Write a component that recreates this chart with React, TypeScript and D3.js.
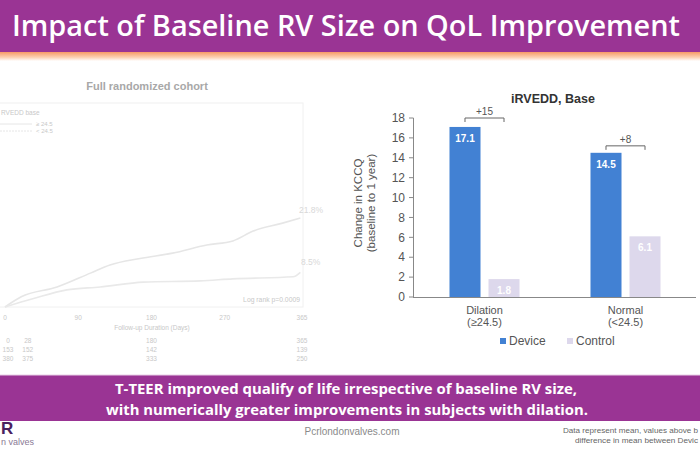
import React from "react";
import * as d3 from "d3";

// ---------- Data ----------
const categories = ["Dilation", "Normal"];
const categorySub = ["(≥24.5)", "(<24.5)"];
const series = ["Device", "Control"];
const deviceValues = [17.1, 14.5];
const controlValues = [1.8, 6.1];
const diffLabels = ["+15", "+8"];
const bracketLevels = [18.0, 15.2];
const yTicks = [0, 2, 4, 6, 8, 10, 12, 14, 16, 18];

// KM (faded) panel
const kmDays = [0, 90, 180, 270, 365];
const kmHighDays = [0, 20, 64, 105, 129, 166, 206, 248, 280, 305, 340, 363];
const kmHighPct = [0, 2.5, 4.9, 8.3, 10.3, 11.9, 13.2, 15.2, 16.2, 18.6, 20.5, 21.8];
const kmLowDays = [0, 34, 76, 117, 170, 240, 280, 354, 363];
const kmLowPct = [0, 2.0, 4.2, 4.9, 6.1, 6.4, 6.9, 7.4, 8.5];
const riskDays = [0, 28, 180, 365];
const riskRow1 = ["0", "28", "180", "365"];
const riskRow2 = ["153", "152", "142", "139"];
const riskRow3 = ["380", "375", "333", "250"];

const PURPLE = "#9a3494";
const BLUE = "#4281d3";
const LAV = "#ddd8ec";
const TXT = "#555";
const FONT = "'Liberation Sans', Arial, sans-serif";
const TITLE_FONT = "'Open Sans', 'Noto Sans', sans-serif";

export default function App() {
  // Bar chart scales
  const y = d3.scaleLinear().domain([0, 18]).range([297, 118]);
  const x0 = d3.scaleBand().domain(categories).range([414, 696]);
  const x1 = d3
    .scaleBand()
    .domain(series)
    .range([0, x0.bandwidth()])
    .paddingInner(0.205)
    .paddingOuter(0.91);
  const color = d3.scaleOrdinal<string, string>().domain(series).range([BLUE, LAV]);
  const valuesBySeries = [deviceValues, controlValues];

  // KM scales
  const xk = d3.scaleLinear().domain([0, 365]).range([5, 302]);
  const yk = d3.scaleLinear().domain([0, 50]).range([307, 103]);
  const kmLine = d3
    .line<[number, number]>()
    .x((d) => xk(d[0]))
    .y((d) => yk(d[1]))
    .curve(d3.curveMonotoneX);
  const hi = kmHighDays.map((d, i) => [d, kmHighPct[i]] as [number, number]);
  const lo = kmLowDays.map((d, i) => [d, kmLowPct[i]] as [number, number]);
  const faint = "#c8c8c8";

  return (
    <svg
      width={700}
      height={450}
      style={{ position: "fixed", top: 0, left: 0, background: "#fff" }}
      fontFamily={FONT}
    >
      <defs>
        <linearGradient id="orange" x1="0" y1="0" x2="0" y2="1">
          <stop offset="0" stopColor="#f79a66" />
          <stop offset="0.6" stopColor="#fcd2b4" />
          <stop offset="1" stopColor="#ffffff" />
        </linearGradient>
      </defs>

      {/* Title bar */}
      <rect x={0} y={0} width={700} height={52} fill={PURPLE} />
      <rect x={0} y={52} width={700} height={9} fill="url(#orange)" />
      <text
        x={12}
        y={36}
        fill="#fff"
        fontFamily={TITLE_FONT}
        fontWeight={600}
        fontSize={29}
        textLength={668}
        lengthAdjust="spacingAndGlyphs"
      >
        Impact of Baseline RV Size on QoL Improvement
      </text>

      {/* ---------- Faded KM panel ---------- */}
      <text x={147} y={90} textAnchor="middle" fill="#a8a8a8" fontWeight="bold" fontSize={11}>
        Full randomized cohort
      </text>
      <rect x={-2} y={103} width={305} height={204} fill="none" stroke="#f0f0f0" strokeWidth={1} />
      <text x={1} y={115} fill={faint} fontSize={6.5}>RVEDD base</text>
      <line x1={0} x2={32} y1={124} y2={124} stroke="#e6e6e6" />
      <line x1={0} x2={32} y1={131} y2={131} stroke="#e6e6e6" strokeDasharray="2,1" />
      <text x={36} y={126} fill={faint} fontSize={6}>≥ 24.5</text>
      <text x={36} y={133} fill={faint} fontSize={6}>&lt; 24.5</text>
      <path d={kmLine(hi) || ""} fill="none" stroke="#e6e6e6" strokeWidth={1.6} />
      <path d={kmLine(lo) || ""} fill="none" stroke="#e9e9e9" strokeWidth={1.6} />
      <text x={xk(365) - 3} y={yk(21.8) - 5} fill="#d8d8d8" fontSize={8.5}>21.8%</text>
      <text x={xk(365) - 1} y={yk(8.5) - 7} fill="#d8d8d8" fontSize={8.5}>8.5%</text>
      <text x={300} y={302} textAnchor="end" fill={faint} fontSize={6.8}>Log rank p=0.0009</text>
      {kmDays.map((d) => (
        <text key={d} x={xk(d)} y={320} textAnchor="middle" fill={faint} fontSize={6.5}>
          {d}
        </text>
      ))}
      <text x={152} y={330} textAnchor="middle" fill={faint} fontSize={6.5}>
        Follow-up Duration (Days)
      </text>
      {[riskRow1, riskRow2, riskRow3].map((row, r) =>
        row.map((v, i) => (
          <text
            key={`${r}-${i}`}
            x={Math.max(xk(riskDays[i]), 8)}
            y={343 + r * 9}
            textAnchor="middle"
            fill={faint}
            fontSize={6.5}
          >
            {v}
          </text>
        ))
      )}

      {/* ---------- Bar chart ---------- */}
      <text x={553} y={103} textAnchor="middle" fontWeight="bold" fontSize={12.5} fill="#333">
        iRVEDD, Base
      </text>
      {/* y axis */}
      <line x1={413.5} x2={413.5} y1={y(18)} y2={y(0)} stroke="#888" />
      {yTicks.map((t) => (
        <g key={t}>
          <line x1={409} x2={413.5} y1={y(t)} y2={y(t)} stroke="#888" />
          <text x={405} y={y(t)} dy="0.35em" textAnchor="end" fontSize={12} fill={TXT}>
            {t}
          </text>
        </g>
      ))}
      <g transform={`translate(362,203) rotate(-90)`}>
        <text textAnchor="middle" fontSize={11.5} fill={TXT}>Change in KCCQ</text>
        <text y={13} textAnchor="middle" fontSize={11.5} fill={TXT}>(baseline to 1 year)</text>
      </g>
      {/* x axis */}
      <line x1={413} x2={696} y1={y(0) + 0.5} y2={y(0) + 0.5} stroke="#888" />

      {categories.map((c, ci) => (
        <g key={c} transform={`translate(${x0(c)},0)`}>
          {series.map((s, si) => {
            const v = valuesBySeries[si][ci];
            const bx = x1(s) as number;
            return (
              <g key={s}>
                <rect
                  x={bx}
                  y={y(v)}
                  width={x1.bandwidth()}
                  height={y(0) - y(v)}
                  fill={color(s)}
                />
                <text
                  x={bx + x1.bandwidth() / 2}
                  y={y(v) + 15}
                  textAnchor="middle"
                  fontSize={10}
                  fontWeight="bold"
                  fill="#fff"
                >
                  {v.toFixed(1)}
                </text>
              </g>
            );
          })}
          {/* bracket */}
          {(() => {
            const a = (x1("Device") as number) + x1.bandwidth() / 2;
            const b = (x1("Control") as number) + x1.bandwidth() / 2;
            const by = y(bracketLevels[ci]);
            return (
              <g>
                <path
                  d={`M${a},${by + 4}V${by}H${b}V${by + 4}`}
                  fill="none"
                  stroke="#666"
                  strokeWidth={1}
                />
                <text x={(a + b) / 2} y={by - 3} textAnchor="middle" fontSize={10} fill={TXT}>
                  {diffLabels[ci]}
                </text>
              </g>
            );
          })()}
          <text x={x0.bandwidth() / 2} y={314} textAnchor="middle" fontSize={11} fill={TXT}>
            {c}
          </text>
          <text x={x0.bandwidth() / 2} y={326} textAnchor="middle" fontSize={11} fill={TXT}>
            {categorySub[ci]}
          </text>
        </g>
      ))}

      {/* legend */}
      {series.map((s, i) => (
        <g key={s} transform={`translate(${500 + i * 67},341)`}>
          <rect x={0} y={-3} width={6} height={6} fill={color(s)} />
          <text x={9} y={0} dy="0.35em" fontSize={12} fill={TXT}>
            {s}
          </text>
        </g>
      ))}

      {/* ---------- Bottom banner ---------- */}
      <rect x={0} y={375} width={700} height={46} fill={PURPLE} />
      <line x1={0} x2={700} y1={375} y2={375} stroke="#e8cfe6" strokeWidth={1} />
      <text
        x={346}
        y={394}
        textAnchor="middle"
        fill="#fff"
        fontFamily={TITLE_FONT}
        fontWeight="bold"
        fontSize={15}
        textLength={462}
        lengthAdjust="spacingAndGlyphs"
      >
        T-TEER improved qualify of life irrespective of baseline RV size,
      </text>
      <text
        x={347}
        y={415}
        textAnchor="middle"
        fill="#fff"
        fontFamily={TITLE_FONT}
        fontWeight="bold"
        fontSize={15}
        textLength={482}
        lengthAdjust="spacingAndGlyphs"
      >
        with numerically greater improvements in subjects with dilation.
      </text>

      {/* footer */}
      <text x={1} y={434} fill="#4a2160" fontWeight="bold" fontSize={17}>R</text>
      <text x={1} y={445} fill="#8a7a96" fontSize={9}>n valves</text>
      <text x={352} y={435} textAnchor="middle" fill="#8a8a8a" fontSize={10}>
        Pcrlondonvalves.com
      </text>
      <text x={563} y={433} fill="#666" fontSize={6.8} textLength={135} lengthAdjust="spacingAndGlyphs">
        Data represent mean, values above b
      </text>
      <text x={575} y={443} fill="#666" fontSize={6.8} textLength={123} lengthAdjust="spacingAndGlyphs">
        difference in mean between Devic
      </text>
    </svg>
  );
}
